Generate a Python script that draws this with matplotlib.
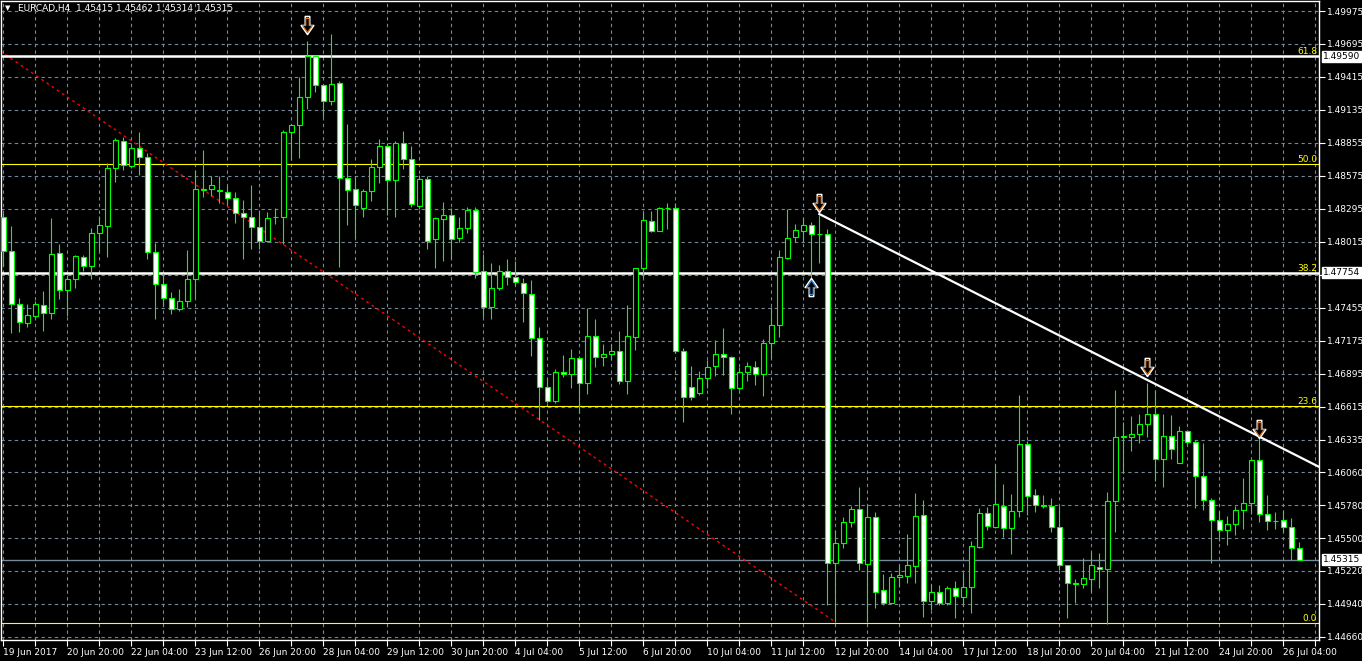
import numpy as np
import matplotlib
matplotlib.use('Agg')
import matplotlib.pyplot as plt
from matplotlib.path import Path

plt.rcParams['font.family'] = 'DejaVu Sans'
plt.rcParams['font.size'] = 6.5

# EURCAD H4 candles, 19 Jun 2017 12:00 .. 26 Jul 2017 08:00
opens = [
    1.48226, 1.47938, 1.47487, 1.47326, 1.47385, 1.47479, 1.47411, 1.47921, 1.47606, 1.47700,
    1.47887, 1.47810, 1.48090, 1.48149, 1.48642, 1.48871, 1.48659, 1.48811, 1.48736, 1.47929,
    1.47657, 1.47538, 1.47445, 1.47513, 1.47700, 1.48455, 1.48464, 1.48447, 1.48438, 1.48387,
    1.48260, 1.48226, 1.48141, 1.48023, 1.48222, 1.48226, 1.48947, 1.49007, 1.49245, 1.49592,
    1.49347, 1.49211, 1.49364, 1.48557, 1.48464, 1.48302, 1.48447, 1.48651, 1.48828, 1.48540,
    1.48854, 1.48719, 1.48319, 1.48549, 1.48039, 1.48209, 1.48243, 1.48047, 1.48132, 1.48285,
    1.47768, 1.47462, 1.47623, 1.47768, 1.47717, 1.47666, 1.47572, 1.47199, 1.46783, 1.46664,
    1.46910, 1.46893, 1.47029, 1.46817, 1.47216, 1.47038, 1.47063, 1.47089, 1.46834, 1.47208,
    1.47793, 1.48192, 1.48107, 1.48302, 1.48302, 1.47089, 1.46783, 1.46732, 1.46859, 1.46961,
    1.47063, 1.47038, 1.46774, 1.46910, 1.46953, 1.46893, 1.47157, 1.47309, 1.47878, 1.48056,
    1.48107, 1.48158, 1.48081, 1.48081, 1.45289, 1.45459, 1.45636, 1.45747, 1.45280, 1.45679,
    1.45059, 1.44949, 1.45170, 1.45178, 1.45263, 1.45696, 1.44966, 1.45042, 1.44949, 1.45076,
    1.45000, 1.45085, 1.45425, 1.45713, 1.45594, 1.45772, 1.45585, 1.45730, 1.46299, 1.45866,
    1.45781, 1.45772, 1.45594, 1.45272, 1.45119, 1.45110, 1.45153, 1.45255, 1.45238, 1.45815,
    1.46359, 1.46359, 1.46384, 1.46468, 1.46553, 1.46172, 1.46367, 1.46138, 1.46410, 1.46316,
    1.46027, 1.45823, 1.45653, 1.45568, 1.45619, 1.45738, 1.45798, 1.46163, 1.45704, 1.45645,
    1.45653, 1.45594, 1.45415]
highs = [
    1.48260, 1.48149, 1.47538, 1.47487, 1.47513, 1.47598, 1.48217, 1.47997, 1.47734, 1.47904,
    1.47904, 1.48132, 1.48234, 1.48685, 1.48896, 1.48905, 1.48837, 1.48947, 1.48770, 1.48006,
    1.47751, 1.47589, 1.47615, 1.47946, 1.48625, 1.48795, 1.48574, 1.48574, 1.48489, 1.48438,
    1.48370, 1.48498, 1.48277, 1.48268, 1.48302, 1.48964, 1.49007, 1.49415, 1.49720, 1.49601,
    1.49355, 1.49779, 1.49381, 1.49015, 1.48574, 1.48464, 1.48719, 1.48888, 1.48854, 1.48871,
    1.48956, 1.48828, 1.48583, 1.48574, 1.48226, 1.48353, 1.48302, 1.48226, 1.48311, 1.48311,
    1.47912, 1.47836, 1.47819, 1.47870, 1.47853, 1.47708, 1.47691, 1.47292, 1.46859, 1.46936,
    1.47055, 1.47106, 1.47046, 1.47453, 1.47360, 1.47148, 1.47148, 1.47259, 1.47479, 1.47793,
    1.48268, 1.48277, 1.48311, 1.48345, 1.48345, 1.47114, 1.46961, 1.46919, 1.47012, 1.47182,
    1.47283, 1.47046, 1.46953, 1.46995, 1.47004, 1.47191, 1.47462, 1.47946, 1.48294, 1.48166,
    1.48217, 1.48183, 1.48243, 1.48124, 1.45568, 1.45679, 1.45772, 1.45934, 1.45781, 1.45721,
    1.45195, 1.45204, 1.45263, 1.45534, 1.45883, 1.45823, 1.45110, 1.45102, 1.45093, 1.45136,
    1.45204, 1.45476, 1.45755, 1.45764, 1.46129, 1.45959, 1.45874, 1.46715, 1.46325, 1.45917,
    1.45866, 1.45840, 1.45772, 1.45272, 1.45153, 1.45331, 1.45382, 1.45374, 1.45891, 1.46757,
    1.46485, 1.46536, 1.46553, 1.46817, 1.46757, 1.46553, 1.46545, 1.46451, 1.46418, 1.46333,
    1.46308, 1.45840, 1.45730, 1.45687, 1.45772, 1.46010, 1.46163, 1.46359, 1.45866, 1.45721,
    1.45738, 1.45670, 1.45462]
lows = [
    1.47810, 1.47242, 1.47250, 1.47292, 1.47368, 1.47259, 1.47360, 1.47530, 1.47385, 1.47623,
    1.47768, 1.47700, 1.47938, 1.47887, 1.48523, 1.48625, 1.48642, 1.48583, 1.47870, 1.47360,
    1.47470, 1.47402, 1.47428, 1.47462, 1.47538, 1.48396, 1.48404, 1.48345, 1.48328, 1.48175,
    1.47870, 1.47955, 1.47955, 1.48014, 1.48166, 1.47997, 1.48710, 1.48727, 1.49143, 1.49287,
    1.49075, 1.49177, 1.47802, 1.48158, 1.48047, 1.48226, 1.48362, 1.48515, 1.48243, 1.48226,
    1.48634, 1.48311, 1.48294, 1.47955, 1.47793, 1.47853, 1.47870, 1.48014, 1.48090, 1.47708,
    1.47377, 1.47360, 1.47606, 1.47649, 1.47649, 1.47334, 1.47046, 1.46502, 1.46647, 1.46647,
    1.46868, 1.46774, 1.46562, 1.46723, 1.46953, 1.46961, 1.47012, 1.46808, 1.46723, 1.47097,
    1.47708, 1.48098, 1.48107, 1.48124, 1.47072, 1.46485, 1.46672, 1.46715, 1.46774, 1.46876,
    1.46885, 1.46553, 1.46757, 1.46834, 1.46800, 1.46706, 1.47029, 1.47208, 1.47870, 1.48014,
    1.48014, 1.47708, 1.47836, 1.44932, 1.44787, 1.45416, 1.45594, 1.45229, 1.44787, 1.44906,
    1.44932, 1.44940, 1.45085, 1.45119, 1.45119, 1.44830, 1.44889, 1.44932, 1.44932, 1.44821,
    1.44932, 1.44864, 1.45416, 1.45568, 1.45585, 1.45509, 1.45365, 1.45679, 1.45696, 1.45721,
    1.45755, 1.45551, 1.45229, 1.44821, 1.44949, 1.45076, 1.45042, 1.45076, 1.44770, 1.45551,
    1.46053, 1.46240, 1.46308, 1.46359, 1.45985, 1.45934, 1.46172, 1.46138, 1.46299, 1.45755,
    1.45738, 1.45289, 1.45476, 1.45442, 1.45526, 1.45577, 1.45704, 1.45636, 1.45568, 1.45577,
    1.45551, 1.45314, 1.45314]
closes = [
    1.47938, 1.47487, 1.47334, 1.47394, 1.47487, 1.47411, 1.47912, 1.47606, 1.47700, 1.47895,
    1.47810, 1.48090, 1.48158, 1.48642, 1.48879, 1.48668, 1.48811, 1.48736, 1.47929, 1.47657,
    1.47538, 1.47445, 1.47513, 1.47700, 1.48464, 1.48464, 1.48498, 1.48455, 1.48387, 1.48260,
    1.48226, 1.48141, 1.48023, 1.48217, 1.48226, 1.48947, 1.49007, 1.49245, 1.49592, 1.49347,
    1.49211, 1.49355, 1.48557, 1.48455, 1.48328, 1.48447, 1.48651, 1.48828, 1.48540, 1.48854,
    1.48719, 1.48336, 1.48549, 1.48023, 1.48217, 1.48243, 1.48039, 1.48132, 1.48285, 1.47759,
    1.47462, 1.47623, 1.47768, 1.47717, 1.47674, 1.47581, 1.47199, 1.46783, 1.46664, 1.46910,
    1.46893, 1.47029, 1.46817, 1.47216, 1.47038, 1.47063, 1.47089, 1.46834, 1.47216, 1.47793,
    1.48200, 1.48107, 1.48302, 1.48305, 1.47089, 1.46698, 1.46698, 1.46859, 1.46953, 1.47063,
    1.47038, 1.46774, 1.46910, 1.46961, 1.46893, 1.47157, 1.47309, 1.47887, 1.48047, 1.48115,
    1.48158, 1.48081, 1.48085, 1.45289, 1.45459, 1.45636, 1.45747, 1.45289, 1.45679, 1.45042,
    1.44949, 1.45170, 1.45187, 1.45272, 1.45687, 1.44966, 1.45042, 1.44949, 1.45076, 1.45008,
    1.45085, 1.45433, 1.45713, 1.45602, 1.45789, 1.45585, 1.45730, 1.46299, 1.45857, 1.45781,
    1.45772, 1.45594, 1.45272, 1.45119, 1.45110, 1.45161, 1.45272, 1.45238, 1.45815, 1.46359,
    1.46365, 1.46384, 1.46468, 1.46553, 1.46172, 1.46367, 1.46257, 1.46410, 1.46316, 1.46027,
    1.45823, 1.45653, 1.45568, 1.45619, 1.45738, 1.45798, 1.46163, 1.45704, 1.45645, 1.45648,
    1.45594, 1.45416, 1.45315]

x_labels = ['19 Jun 2017', '20 Jun 20:00', '22 Jun 04:00', '23 Jun 12:00', '26 Jun 20:00',
            '28 Jun 04:00', '29 Jun 12:00', '30 Jun 20:00', '4 Jul 04:00', '5 Jul 12:00',
            '6 Jul 20:00', '10 Jul 04:00', '11 Jul 12:00', '12 Jul 20:00', '14 Jul 04:00',
            '17 Jul 12:00', '18 Jul 20:00', '20 Jul 04:00', '21 Jul 12:00', '24 Jul 20:00',
            '26 Jul 04:00']
y_ticks = [1.49975, 1.49695, 1.49415, 1.49135, 1.48855, 1.48575, 1.48295, 1.48015, 1.47735,
           1.47455, 1.47175, 1.46895, 1.46615, 1.46335, 1.46060, 1.45780, 1.45500, 1.45220,
           1.44940, 1.44660]
y_tick_labels = ['%.5f' % v if v != 1.47735 else '' for v in y_ticks]

# fibonacci retracement levels
fib_levels = [1.49590, 1.48672, 1.47754, 1.46618, 1.44782]
fib_names = ['61.8', '50.0', '38.2', '23.6', '0.0']
hlines_white = [1.49590, 1.47754]
bid = 1.45315

fib_x = [-0.4, 104]
fib_y = [1.49635, 1.44787]
trend_x = [102, 164.5]
trend_y = [1.48251, 1.46103]

arrows_down = [(38, 1.49856), (102, 1.48345), (143, 1.46952), (157, 1.46426)]
arrows_up = [(101, 1.47631)]

o = np.array(opens)
h = np.array(highs)
l = np.array(lows)
c = np.array(closes)
idx = np.arange(len(o))
up = c >= o

green = '#00ff00'
grid_col = '#778899'

fig = plt.figure(figsize=(13.62, 6.61), dpi=100, facecolor='black')
ax = fig.add_axes([1 / 1362, 21 / 661, 1318 / 1362, 639 / 661], facecolor='black')

ax.vlines(idx, l, h, color=green, lw=0.8, zorder=3)
bot = np.minimum(o, c)
hgt = np.abs(c - o)
ax.bar(idx[up], hgt[up], bottom=bot[up], width=0.55, color='black',
       edgecolor=green, linewidth=0.8, zorder=4)
ax.bar(idx[~up], hgt[~up], bottom=bot[~up], width=0.55, color='white',
       edgecolor=green, linewidth=0.8, zorder=4)

# levels
for lev, name in zip(fib_levels, fib_names):
    ax.axhline(lev, color='yellow', lw=0.8, zorder=2)
    ax.text(0.9985, lev, name, color='yellow', ha='right', va='bottom',
            transform=ax.get_yaxis_transform(), fontsize=6.5, zorder=6)
for lev in hlines_white:
    ax.axhline(lev, color='white', lw=1.8, zorder=2.5)
ax.axhline(bid, color=grid_col, lw=1, zorder=2)

ax.plot(fib_x, fib_y, color='red', lw=1, linestyle=(0, (2, 2.5)), zorder=2)
ax.plot(trend_x, trend_y, color='white', lw=1.6, zorder=5, clip_on=True)

# hollow arrow markers (mt4 style)
dn = Path([(-0.25, 1), (0.25, 1), (0.25, 0), (0.7, 0), (0, -1), (-0.7, 0), (-0.25, 0), (-0.25, 1)],
          [Path.MOVETO] + [Path.LINETO] * 6 + [Path.CLOSEPOLY])
upm = Path([(x, -y) for x, y in dn.vertices], dn.codes)
ax_d = [a[0] for a in arrows_down]
ay_d = [a[1] for a in arrows_down]
ax.plot(ax_d, ay_d, ls='none', marker=dn, ms=13, mfc='black', mec='white', mew=1.1, zorder=7)
ax.plot(ax_d, ay_d, ls='none', marker=dn, ms=10, mfc='black', mec='#e07b24', mew=0.8, zorder=7)
ax_u = [a[0] for a in arrows_up]
ay_u = [a[1] for a in arrows_up]
ax.plot(ax_u, ay_u, ls='none', marker=upm, ms=13, mfc='black', mec='white', mew=1.1, zorder=7)
ax.plot(ax_u, ay_u, ls='none', marker=upm, ms=10, mfc='black', mec='#3d8fe0', mew=0.8, zorder=7)

# axes
ax.set_xlim(-0.29, 164.46)
ax.set_ylim(1.44634, 1.50060)
ax.set_axisbelow(True)
ax.grid(True, color=grid_col, linestyle=(0, (3, 3)), linewidth=0.8)

xt = np.arange(0, 165, 4)
ax.set_xticks(xt)
ax.set_xticklabels([x_labels[i // 8] if i % 8 == 0 else '' for i in xt])
for t in ax.get_xticklabels():
    t.set_ha('left')
ax.tick_params(axis='x', colors='white', length=4, width=0.8, pad=1.5, labelsize=6.5)

ax.yaxis.tick_right()
ax.set_yticks(y_ticks)
ax.set_yticklabels(y_tick_labels)
ax.tick_params(axis='y', colors='white', length=4, width=0.8, pad=2, labelsize=6.5)

for s in ax.spines.values():
    s.set_color('white')
    s.set_linewidth(1)

for v in [1.49590, 1.47754, bid]:
    ax.annotate('%.5f' % v, xy=(1, v), xycoords=('axes fraction', 'data'), xytext=(3, 0),
                textcoords='offset points', ha='left', va='center', color='black', fontsize=6.5,
                bbox=dict(boxstyle='square,pad=0.12', fc='white', ec='white'),
                annotation_clip=False, zorder=8)

ax.text(0.003, 0.993, '\u25bc', color='white', fontsize=5, transform=ax.transAxes,
        ha='left', va='top')
ax.text(0.013, 0.995, 'EURCAD,H4  1.45415 1.45462 1.45314 1.45315', color='white',
        fontsize=6.5, transform=ax.transAxes, ha='left', va='top')

plt.savefig('out.png', dpi=100, facecolor='black')
